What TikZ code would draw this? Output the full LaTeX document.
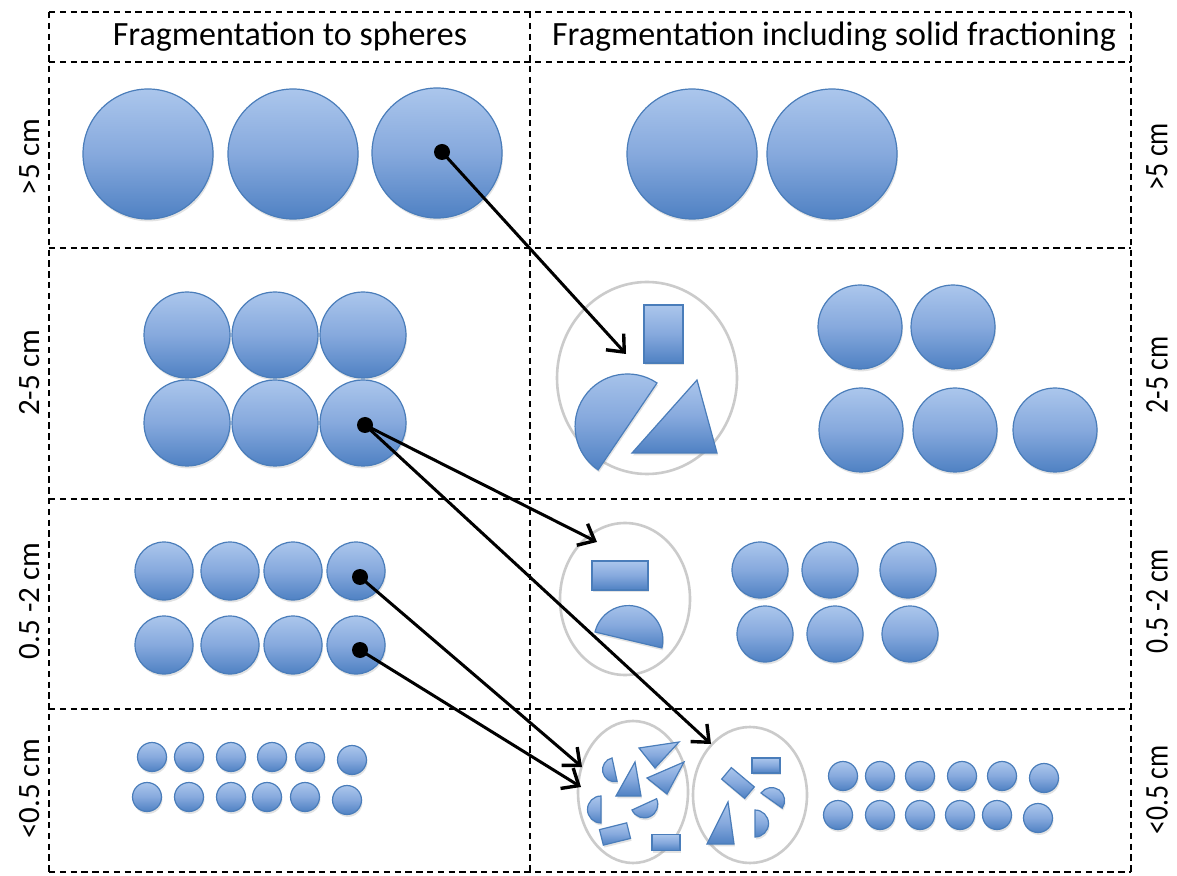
\documentclass[tikz,border=0pt]{standalone}
\usepackage{fontspec}
\usepackage{graphicx}
\setmainfont{Carlito}
\usetikzlibrary{arrows.meta,shadows,shapes.geometric}
\definecolor{bTop}{HTML}{ABC6EC}
\definecolor{bMid}{HTML}{86A9DD}
\definecolor{bBot}{HTML}{4F81C3}
\definecolor{bEdge}{HTML}{4A7DBA}
\definecolor{ringc}{HTML}{CBCBCB}
\begin{document}
\begin{tikzpicture}[x=0.5pt,y=-0.5pt,
  gridline/.style={line width=1.3pt, dash pattern=on 3.2pt off 2.2pt, black},
  shade/.style={draw=bEdge, line width=0.6pt, top color=bTop, bottom color=bBot, middle color=bMid,
    drop shadow={opacity=0.22, shadow xshift=0.5pt, shadow yshift=-1.2pt}},
  ball/.style={circle, shade, inner sep=0pt, outer sep=0pt},
  frag/.style={shade},
  fragbox/.style={rectangle, shade, inner sep=0pt, outer sep=0pt},
  ringe/.style={ellipse, draw=ringc, line width=1.3pt, inner sep=0pt},
  dotn/.style={circle, fill=black, minimum size=8pt, inner sep=0pt},
  arr/.style={line width=1.5pt, -{Straight Barb[length=7pt,width=12pt,line width=1.7pt]}},
  head/.style={font=\fontsize{17}{20}\selectfont},
  lbl/.style={font=\fontsize{15.5}{18}\selectfont, rotate=90},
  rlbl/.style={font=\fontsize{16.5}{19}\selectfont, rotate=90}
]
\useasboundingbox (0,0) rectangle (1177,876);
\fill[white] (0,0) rectangle (1177,876);

% grid
\draw[gridline] (49,12) -- (1131,12);
\draw[gridline] (49,62) -- (1131,62);
\draw[gridline] (49,248) -- (1131,248);
\draw[gridline] (49,499) -- (1131,499);
\draw[gridline] (49,709) -- (1131,709);
\draw[gridline] (49,872) -- (1131,872);
\draw[gridline] (49,12) -- (49,872);
\draw[gridline] (530,12) -- (530,872);
\draw[gridline] (1131,12) -- (1131,872);

% headers
\node[head] (h1) at (290,37) {Fragmentation to spheres};
\node[head] (h2) at (834,37) {Fragmentation including solid fractioning};

% left labels
\node[lbl] (l1) at (30,157) {>5 cm};
\node[lbl] (l2) at (30,373) {2-5 cm};
\node[lbl] (l3) at (30,601) {0.5 -2 cm};
\node[lbl] (l4) at (30,789) {<0.5 cm};
% right labels
\node[rlbl] (r1) at (1157,157) {\scalebox{0.84}[1]{>5 cm}};
\node[rlbl] (r2) at (1157,375) {\scalebox{0.84}[1]{2-5 cm}};
\node[rlbl] (r3) at (1157,601) {\scalebox{0.84}[1]{0.5 -2 cm}};
\node[rlbl] (r4) at (1157,790) {\scalebox{0.84}[1]{<0.5 cm}};

% row 1
\foreach \x/\y [count=\i] in {148/154,293/154,437/153}
  \node[ball, minimum size=65pt] (a\i) at (\x,\y) {};
\foreach \x/\y [count=\i] in {692/154,832/154}
  \node[ball, minimum size=65pt] (ar\i) at (\x,\y) {};

% row 2
\foreach \x/\y [count=\i] in {187/335,275/335,363/335,187/423,275/423,363/423}
  \node[ball, minimum size=43pt] (b\i) at (\x,\y) {};
\foreach \x/\y [count=\i] in {860/327,953/327,861/430,955/430,1055/430}
  \node[ball, minimum size=42pt] (br\i) at (\x,\y) {};
\node[ringe, minimum width=90pt, minimum height=96pt] (e2) at (647,378) {};
\node[fragbox, minimum width=19.5pt, minimum height=29pt] (f2r) at (663.5,334) {};
\path[frag] (657,383) arc[start angle=-55.9, delta angle=-180, radius=52.5] -- cycle;
\path[frag] (697,380) -- (717,453) -- (632,453) -- cycle;

% row 3
\foreach \x/\y [count=\i] in {164/571,230/571,293/571,356/571,164/645,230/645,293/645,356/645}
  \node[ball, minimum size=29pt] (c\i) at (\x,\y) {};
\foreach \x/\y [count=\i] in {760/570,830/570,908/570,765/634,835/634,910/634}
  \node[ball, minimum size=28pt] (cr\i) at (\x,\y) {};
\node[ringe, minimum width=65pt, minimum height=76pt] (e3) at (625,599) {};
\node[fragbox, minimum width=28pt, minimum height=14.5pt] (f3r) at (620,575.5) {};
\path[frag] (595,632) arc[start angle=-166.6, delta angle=180, radius=34.4] -- cycle;

% row 4
\foreach \x/\y [count=\i] in {152/757,189/757,231/757,272/757,310/757,352/760,147/797,189/797,231/797,267/797,305/797,347/800}
  \node[ball, minimum size=14.5pt] (s\i) at (\x,\y) {};
\foreach \x/\y [count=\i] in {843/776,880/776,920/776,962/776,1002/776,1044/778,838/815,880/815,920/815,960/815,997/815,1038/818}
  \node[ball, minimum size=14.5pt] (sr\i) at (\x,\y) {};
\node[ringe, minimum width=55pt, minimum height=71pt] (e4a) at (633,792) {};
\node[ringe, minimum width=57pt, minimum height=68pt] (e4b) at (750,795) {};
% fragments in e4a
\path[frag] (612,758) arc[start angle=-102.3, delta angle=-180, radius=12] -- cycle;
\path[frag] (601,796) arc[start angle=-90, delta angle=-180, radius=13.5] -- cycle;
\path[frag] (632,810) arc[start angle=155.4, delta angle=-180, radius=13.5] -- cycle;
\path[frag] (639,748) -- (679,742) -- (655,768) -- cycle;
\path[frag] (647,778) -- (684,762) -- (667,794) -- cycle;
\path[frag] (635,762) -- (641,796) -- (616,796) -- cycle;
\node[fragbox, minimum width=14pt, minimum height=8pt, rotate=14] (f4a1) at (615,834) {};
\node[fragbox, minimum width=14pt, minimum height=8pt] (f4a2) at (666,842.5) {};
% fragments in e4b
\node[fragbox, minimum width=14pt, minimum height=7.5pt] (f4b1) at (766,765.5) {};
\node[fragbox, minimum width=15pt, minimum height=7.5pt, rotate=-40] (f4b2) at (738,783) {};
\path[frag] (761,793) arc[start angle=-144.5, delta angle=180, radius=13] -- cycle;
\path[frag] (755,810) arc[start angle=-90, delta angle=180, radius=13.5] -- cycle;
\path[frag] (728,802) -- (734,844) -- (707,844) -- cycle;

% arrows
\node[dotn] (d1) at (442,152) {};
\node[dotn] (d2) at (365,425) {};
\node[dotn] (d3) at (360,577) {};
\node[dotn] (d4) at (360,650) {};
\coordinate (t1) at (626,354);
\coordinate (t2a) at (597,542);
\coordinate (t2b) at (711,744);
\coordinate (t3) at (582,767);
\coordinate (t4) at (581,787);
\draw[arr] (d1.center) -- (t1);
\draw[arr] (d2.center) -- (t2a);
\draw[arr] (d2.center) -- (t2b);
\draw[arr] (d3.center) -- (t3);
\draw[arr] (d4.center) -- (t4);
\end{tikzpicture}
\end{document}
